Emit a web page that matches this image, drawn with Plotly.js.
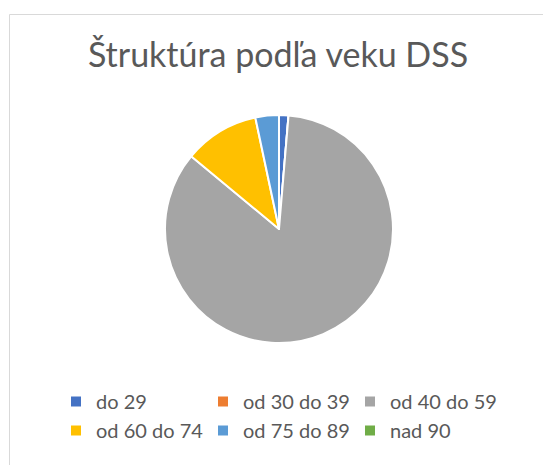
<!DOCTYPE html>
<html>
<head>
<meta charset="utf-8">
<script src="https://cdn.plot.ly/plotly-3.0.1.min.js"></script>
<style>html,body{margin:0;padding:0;background:#fff;}#chart{width:543px;height:465px;}</style>
</head>
<body>
<div id="chart"></div>
<script>
const categories = ["do 29", "od 30 do 39", "od 40 do 59", "od 60 do 74", "od 75 do 89", "nad 90"];
const values = [2, 0, 127, 16, 5, 0];
const colors = ["#4472C4", "#ED7D31", "#A5A5A5", "#FFC000", "#5B9BD5", "#70AD47"];
const chartTitle = "Štruktúra podľa veku DSS";

const W = 543, H = 465;
const cx = 279, cy = 229, r = 114;

const data = [{
  type: "pie",
  labels: categories,
  values: values,
  sort: false,
  direction: "clockwise",
  rotation: 0,
  textinfo: "none",
  hoverinfo: "label+value+percent",
  marker: { colors: colors, line: { color: "#ffffff", width: 2 } },
  domain: { x: [(cx - r) / W, (cx + r) / W], y: [(H - cy - r) / H, (H - cy + r) / H] }
}];

const layout = {
  width: W, height: H,
  margin: { l: 0, r: 0, t: 0, b: 0, autoexpand: false },
  paper_bgcolor: "#ffffff",
  font: { family: "Lato, 'Noto Sans', sans-serif", color: "#595959" },
  title: {
    text: chartTitle,
    font: { size: 34, color: "#595959", family: "Lato, 'Noto Sans', sans-serif" },
    x: 278 / W, xanchor: "center", xref: "paper",
    y: 1 - 55 / H, yanchor: "middle", yref: "container"
  },
  showlegend: true,
  legend: {
    orientation: "h",
    x: 56 / W, xanchor: "left",
    y: 1 - 382 / H, yanchor: "top",
    entrywidth: 102, entrywidthmode: "pixels",
    font: { size: 20, color: "#595959", family: "Lato, 'Noto Sans', sans-serif" },
    traceorder: "normal"
  },
  shapes: [{
    type: "rect", xref: "paper", yref: "paper",
    x0: 9.5 / W, x1: 1.2, y0: -0.2, y1: 1 - 14.5 / H,
    line: { color: "#d9d9d9", width: 1 }, fillcolor: "rgba(0,0,0,0)", layer: "below"
  }]
};

Plotly.newPlot("chart", data, layout, { displayModeBar: false });
</script>
</body>
</html>
